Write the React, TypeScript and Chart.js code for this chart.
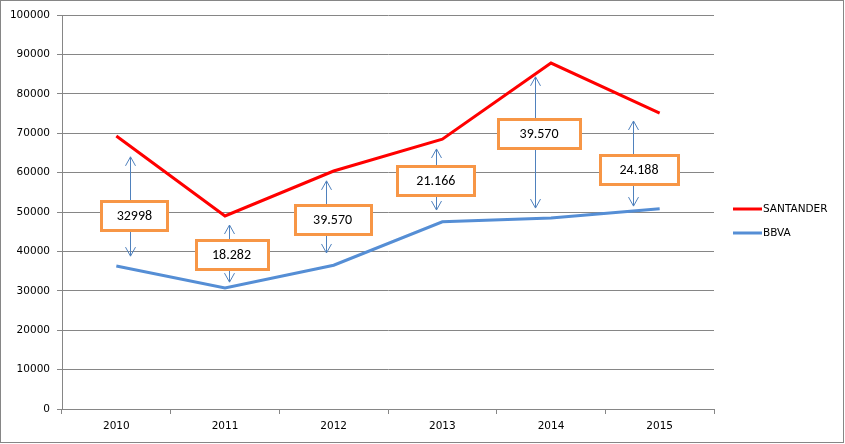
import React, { useEffect, useRef } from "react";
import { Chart, registerables } from "chart.js";

Chart.register(...registerables);

const categories = ["2010", "2011", "2012", "2013", "2014", "2015"];
const santander = [69300, 49000, 60400, 68500, 87800, 75100];
const bbva = [36300, 30700, 36500, 47500, 48500, 50800];

// annotation: arrow at category position (index units), between two data values
const gapLabels = ["32998", "18.282", "39.570", "21.166", "39.570", "24.188"];
const arrowX = [0.13, 1.04, 1.93, 2.94, 3.855, 4.756];
const arrowTop = [64000, 46700, 57900, 66000, 84300, 73100];
const arrowBottom = [38800, 32200, 39600, 50500, 51000, 51500];
const boxX = [0.166, 1.06, 1.99, 2.94, 3.89, 4.81];
const boxY = [49200, 39300, 48200, 58100, 70000, 60700];
const boxW = [66, 72, 76, 77, 82, 78];

const AXIS_FONT = '"DejaVu Sans", Verdana, sans-serif';

const frame = {
  id: "frame",
  beforeDraw(chart: any) {
    const { ctx, width, height } = chart;
    ctx.save();
    ctx.fillStyle = "#ffffff";
    ctx.fillRect(0, 0, width, height);
    ctx.strokeStyle = "#868686";
    ctx.lineWidth = 1;
    ctx.strokeRect(0.5, 0.5, width - 2, height - 2);
    ctx.restore();
  },
};

const annotations = {
  id: "gapAnnotations",
  afterDatasetsDraw(chart: any) {
    const { ctx } = chart;
    const xs = chart.scales.x;
    const ys = chart.scales.y;
    ctx.save();
    ctx.strokeStyle = "#4F81BD";
    ctx.lineWidth = 1;
    for (let i = 0; i < arrowX.length; i++) {
      const x = Math.round(xs.getPixelForValue(arrowX[i])) + 0.5;
      const y1 = ys.getPixelForValue(arrowTop[i]);
      const y2 = ys.getPixelForValue(arrowBottom[i]);
      ctx.beginPath();
      ctx.moveTo(x, y1);
      ctx.lineTo(x, y2);
      ctx.moveTo(x - 5, y1 + 9);
      ctx.lineTo(x, y1);
      ctx.lineTo(x + 5, y1 + 9);
      ctx.moveTo(x - 5, y2 - 9);
      ctx.lineTo(x, y2);
      ctx.lineTo(x + 5, y2 - 9);
      ctx.stroke();
    }
    ctx.font = '14px Carlito, "Liberation Sans", sans-serif';
    ctx.textAlign = "center";
    ctx.textBaseline = "middle";
    for (let i = 0; i < boxX.length; i++) {
      const cx = xs.getPixelForValue(boxX[i]);
      const cy = ys.getPixelForValue(boxY[i]);
      const w = boxW[i];
      const h = 29;
      const left = Math.round(cx - w / 2) + 0.5;
      const top = Math.round(cy - h / 2) + 0.5;
      ctx.fillStyle = "#ffffff";
      ctx.fillRect(left, top, w, h);
      ctx.strokeStyle = "#F79646";
      ctx.lineWidth = 3;
      ctx.strokeRect(left, top, w, h);
      ctx.fillStyle = "#000000";
      ctx.fillText(gapLabels[i], cx, cy + 1);
    }
    ctx.restore();
  },
};

const legendPlugin = {
  id: "customLegend",
  afterDraw(chart: any) {
    const { ctx, chartArea } = chart;
    const x0 = chartArea.right + 19;
    const yc = (chartArea.top + chartArea.bottom) / 2 - 3;
    ctx.save();
    ctx.font = "10.5px " + AXIS_FONT;
    ctx.textAlign = "left";
    ctx.textBaseline = "middle";
    chart.data.datasets.forEach((ds: any, i: number) => {
      const y = yc + i * 24;
      ctx.strokeStyle = ds.borderColor;
      ctx.lineWidth = 3;
      ctx.beginPath();
      ctx.moveTo(x0, y);
      ctx.lineTo(x0 + 29, y);
      ctx.stroke();
      ctx.fillStyle = "#000000";
      ctx.fillText(ds.label, x0 + 30, y);
    });
    ctx.restore();
  },
};

export default function App() {
  const ref = useRef<HTMLCanvasElement>(null);
  useEffect(() => {
    document.body.style.margin = "0";
    const chart = new Chart(ref.current!, {
      type: "line",
      data: {
        labels: categories,
        datasets: [
          {
            label: "SANTANDER",
            data: santander,
            borderColor: "#FF0000",
            backgroundColor: "#FF0000",
            borderWidth: 3,
            pointRadius: 0,
            tension: 0,
          },
          {
            label: "BBVA",
            data: bbva,
            borderColor: "#558ED5",
            backgroundColor: "#558ED5",
            borderWidth: 3,
            pointRadius: 0,
            tension: 0,
          },
        ],
      },
      options: {
        responsive: false,
        animation: false,
        layout: { padding: { left: 0, top: 15, right: 131, bottom: 0 } },
        plugins: {
          legend: { display: false },
          tooltip: { enabled: false },
        },
        scales: {
          x: {
            type: "category",
            offset: true,
            grid: {
              offset: true,
              drawOnChartArea: false,
              color: "#868686",
              tickLength: 5,
            },
            border: { color: "#868686" },
            ticks: {
              color: "#000000",
              font: { family: AXIS_FONT, size: 10.5 },
              padding: 6,
              maxRotation: 0,
            },
            afterFit(scale: any) {
              scale.height = 35;
            },
          },
          y: {
            min: 0,
            max: 100000,
            ticks: {
              stepSize: 10000,
              color: "#000000",
              font: { family: AXIS_FONT, size: 10.5 },
              padding: 7,
              callback: (v: any) => String(v),
            },
            grid: { color: "#868686", tickLength: 5 },
            border: { color: "#868686" },
            afterFit(scale: any) {
              scale.width = 62;
            },
          },
        },
      },
      plugins: [frame, annotations, legendPlugin],
    });
    return () => chart.destroy();
  }, []);
  return (
    <div style={{ width: 845, height: 444 }}>
      <canvas ref={ref} width={845} height={444} />
    </div>
  );
}
